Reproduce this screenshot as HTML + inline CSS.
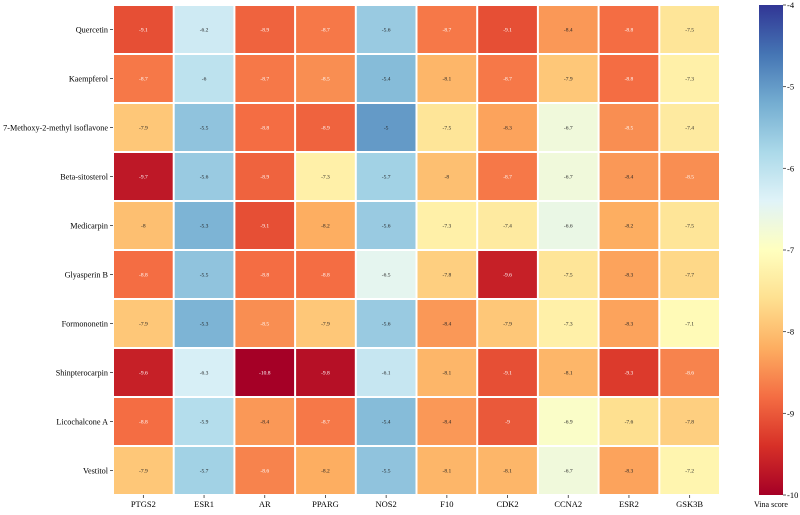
<!DOCTYPE html>
<html><head><meta charset="utf-8"><style>
body{margin:0;background:#fff;width:800px;height:510px;overflow:hidden}
svg text{font-family:"Liberation Serif",serif}
</style></head><body>
<svg id="chart" width="800" height="510" xmlns="http://www.w3.org/2000/svg"></svg>
<script>
const rows=["Quercetin","Kaempferol","7-Methoxy-2-methyl isoflavone","Beta-sitosterol","Medicarpin","Glyasperin B","Formononetin","Shinpterocarpin","Licochalcone A","Vestitol"];
const cols=["PTGS2","ESR1","AR","PPARG","NOS2","F10","CDK2","CCNA2","ESR2","GSK3B"];
const values=[
[-9.1,-6.2,-8.9,-8.7,-5.6,-8.7,-9.1,-8.4,-8.8,-7.5],
[-8.7,-6,-8.7,-8.5,-5.4,-8.1,-8.7,-7.9,-8.8,-7.3],
[-7.9,-5.5,-8.8,-8.9,-5,-7.5,-8.3,-6.7,-8.5,-7.4],
[-9.7,-5.6,-8.9,-7.3,-5.7,-8,-8.7,-6.7,-8.4,-8.5],
[-8,-5.3,-9.1,-8.2,-5.6,-7.3,-7.4,-6.6,-8.2,-7.5],
[-8.8,-5.5,-8.8,-8.8,-6.5,-7.8,-9.6,-7.5,-8.3,-7.7],
[-7.9,-5.3,-8.5,-7.9,-5.6,-8.4,-7.9,-7.3,-8.3,-7.1],
[-9.6,-6.3,-10.8,-9.8,-6.1,-8.1,-9.1,-8.1,-9.3,-8.6],
[-8.8,-5.9,-8.4,-8.7,-5.4,-8.4,-9,-6.9,-7.6,-7.8],
[-7.9,-5.7,-8.6,-8.2,-5.5,-8.1,-8.1,-6.7,-8.3,-7.2]];
const cbTicks=[-4,-5,-6,-7,-8,-9,-10];
const vmin=-10,vmax=-4;
const stops=["#a50026","#d73027","#f46d43","#fdae61","#fee090","#ffffbf","#e0f3f8","#abd9e9","#74add1","#4575b4","#313695"];
function hx(c){return [1,3,5].map(i=>parseInt(c.substr(i,2),16));}
function color(v){let t=(v-vmin)/(vmax-vmin);t=Math.max(0,Math.min(1,t))*10;let i=Math.min(9,Math.floor(t)),f=t-i;
const a=hx(stops[i]),b=hx(stops[i+1]);return "rgb("+a.map((x,k)=>Math.round(x+(b[k]-x)*f)).join(",")+")";}
const L=113,R=720,T=5,B=495;
const cw=(R-L)/cols.length,rh=(B-T)/rows.length;
const xS=j=>L+j*cw,yS=i=>T+i*rh;
const cbX=759,cbW=24;
const cbY=v=>T+(vmax-v)/(vmax-vmin)*(B-T);
const svg=document.getElementById('chart');const NS="http://www.w3.org/2000/svg";
function el(tag,attrs,parent){const e=document.createElementNS(NS,tag);for(const k in attrs)e.setAttribute(k,attrs[k]);(parent||svg).appendChild(e);return e;}
values.forEach((row,i)=>row.forEach((v,j)=>{
 const r=el('rect',{x:xS(j)+1,y:yS(i)+1,width:cw-2,height:rh-2,fill:color(v)});
 
 
 const t=el('text',{x:xS(j)+cw/2,y:yS(i)+rh/2+2,'text-anchor':'middle','font-size':'5.5',fill:(v<=-8.5?'#fff':'#222')});
 t.textContent=v;
 
 
}));
rows.forEach((r,i)=>{
 const y=yS(i)+rh/2;
 el('line',{x1:L-3,x2:L,y1:y,y2:y,stroke:'#333','stroke-width':0.8});
 const t=el('text',{x:L-5,y:y+2.8,'text-anchor':'end','font-size':'8.2',fill:'#000'});t.textContent=r;
 
 
});
cols.forEach((c,j)=>{
 const x=xS(j)+cw/2;
 el('line',{x1:x,x2:x,y1:B,y2:B+3,stroke:'#333','stroke-width':0.8});
 const t=el('text',{x:x,y:B+12,'text-anchor':'middle','font-size':'8.5',fill:'#000'});t.textContent=c;
 
 
});
const defs=el('defs',{});const g=el('linearGradient',{id:'cbg',x1:0,y1:1,x2:0,y2:0},defs);
stops.forEach((s,k)=>el('stop',{offset:k/10,'stop-color':s},g));
const cb=el('rect',{x:cbX,y:T,width:cbW,height:B-T,fill:'url(#cbg)'});


cbTicks.forEach(v=>{const y=cbY(v);
 el('line',{x1:cbX+cbW,x2:cbX+cbW+3,y1:y,y2:y,stroke:'#333','stroke-width':0.8});
 const t=el('text',{x:cbX+cbW+4,y:y+3,'font-size':'8.5',fill:'#000'});t.textContent=v;
 
 
});
const lab=el('text',{x:cbX+cbW/2,y:B+12,'text-anchor':'middle','font-size':'8',fill:'#000'});lab.textContent='Vina score';


</script>
</body></html>
